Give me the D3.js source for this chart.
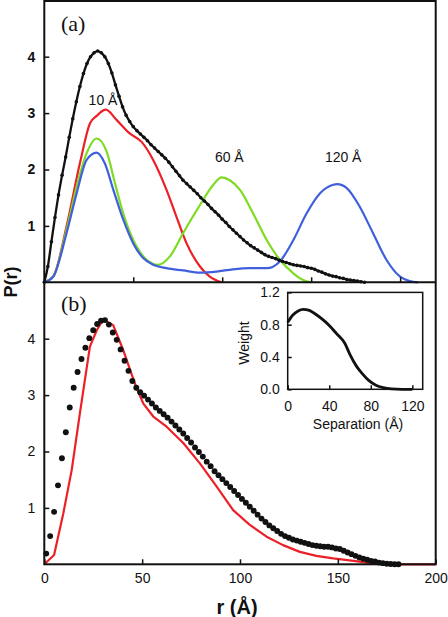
<!DOCTYPE html>
<html><head><meta charset="utf-8">
<script src="https://cdn.jsdelivr.net/npm/d3@7"></script>
<style>body{margin:0;background:#fff}svg{display:block}</style>
</head><body>
<svg id="c" width="448" height="617" font-family="Liberation Sans, Arial, sans-serif"></svg>
<script>
// ---- Data ----
// Panel (a): black curve sampled every 2 Å
const aBlackR = [0,2,4,6,8,10,12,14,16,18,20,22,24,26,28,30,32,34,36,38,40,42,44,46,48,50,52,54,56,58,60,62,64,66,68,70,72,74,76,78,80,82,84,86,88,90,92,94,96,98,100,102,104,106,108,110,112,114,116,118,120,122,124,126,128,130,132,134,136,138,140,142,144,146,148,150,152,154,156,158,160,162,164,166,168,170,172,174,176,178,180];
const aBlackP = [0.0,0.28,0.72,1.15,1.55,1.90,2.22,2.57,2.90,3.20,3.47,3.70,3.88,4.00,4.07,4.10,4.07,4.00,3.88,3.71,3.50,3.30,3.11,2.96,2.85,2.76,2.69,2.63,2.57,2.51,2.44,2.38,2.32,2.26,2.20,2.13,2.05,1.97,1.89,1.81,1.75,1.69,1.63,1.57,1.50,1.44,1.38,1.31,1.25,1.19,1.12,1.06,0.99,0.93,0.87,0.81,0.75,0.70,0.65,0.61,0.57,0.53,0.49,0.46,0.44,0.42,0.39,0.37,0.35,0.33,0.31,0.30,0.29,0.28,0.26,0.25,0.23,0.20,0.18,0.15,0.13,0.11,0.10,0.08,0.07,0.05,0.04,0.03,0.02,0.01,0.0];
// 10 Å (red)
const aRedR = [0,5,12.5,20,25.7,29.4,34.6,40.6,48,54.7,61.2,68.7,74.3,80,87.5,93,99.6];
const aRedP = [0,0.1,0.99,2.11,2.82,2.95,3.06,2.88,2.64,2.49,2.17,1.64,1.16,0.69,0.28,0.10,0];
// 60 Å (green)
const aGreenR = [0,5,12.5,18.2,23.8,29.4,35,39.7,44.4,50,57.5,64,70.6,78,87.5,95,99.6,104.3,110,117.4,125,132.4,140,145.5,150];
const aGreenP = [0,0.1,0.93,1.70,2.29,2.55,2.32,1.76,1.22,0.75,0.40,0.31,0.46,0.87,1.37,1.73,1.86,1.81,1.64,1.22,0.75,0.40,0.16,0.04,0];
// 120 Å (blue)
const aBlueR = [0,5,12.5,18.2,23.8,29.4,34,38.8,44.4,50,55.6,61.2,68.7,78,87.5,96.8,106,115.5,125,132.4,140,147.4,155,162.4,164.6,170,177.3,184.8,192.3,200,205.4,210];
const aBlueP = [0,0.1,0.87,1.58,2.17,2.30,2.11,1.64,1.11,0.69,0.43,0.31,0.25,0.21,0.17,0.19,0.23,0.25,0.25,0.37,0.75,1.22,1.58,1.73,1.74,1.67,1.34,0.87,0.40,0.10,0.02,0];
const aLabels = ["10 Å","60 Å","120 Å"];
const aLabelR = [33,104,168];
const aLabelP = [3.15,2.13,2.13];

// Panel (b): measured data (dots) every 2 Å
const bDotR = [1,3,5,7,9,11,13,15,17,19,21,23,25,27,29,31,33,35,37,39,41,43,45,47,49,51,53,55,57,59,61,63,65,67,69,71,73,75,77,79,81,83,85,87,89,91,93,95,97,99,101,103,105,107,109,111,113,115,117,119,121,123,125,127,129,131,133,135,137,139,141,143,145,147,149,151,153,155,157,159,161,163,165,167,169,171,173,175,177,179,181];
const bDotP = [0.19,0.50,0.93,1.40,1.88,2.34,2.78,3.13,3.41,3.64,3.84,4.01,4.15,4.26,4.32,4.33,4.25,4.11,3.98,3.81,3.61,3.43,3.25,3.13,3.05,2.99,2.92,2.85,2.78,2.72,2.66,2.60,2.53,2.46,2.39,2.32,2.24,2.16,2.07,1.99,1.91,1.82,1.74,1.65,1.58,1.51,1.44,1.37,1.30,1.23,1.16,1.09,1.02,0.95,0.88,0.81,0.75,0.69,0.64,0.59,0.54,0.50,0.47,0.44,0.42,0.40,0.38,0.36,0.34,0.33,0.32,0.31,0.31,0.30,0.28,0.27,0.24,0.21,0.18,0.15,0.12,0.10,0.08,0.06,0.05,0.03,0.02,0.01,0.005,0,0];
// fit (red line)
const bFitR = [0,5,9.7,14,18.2,23.3,26.8,30.1,35.2,40.3,43.8,47.2,50.6,55.7,62.5,71,79.5,88,96.5,105,113.6,122,130.6,139,147.6,156,165,180,200];
const bFitP = [0,0.165,0.9,1.67,2.68,3.86,4.15,4.34,4.24,3.80,3.45,3.12,2.85,2.62,2.44,2.15,1.79,1.38,0.96,0.70,0.49,0.34,0.22,0.15,0.105,0.07,0.03,0,0];
// inset: weight vs separation
const insS = [0,5,10,15,20,28,35,40,47,55,60,66,72,78,85,92,100,110,120];
const insW = [0.83,0.92,0.97,0.99,0.98,0.92,0.85,0.79,0.69,0.57,0.43,0.29,0.19,0.11,0.05,0.02,0.005,0,0];

const pTicks = [1,2,3,4];
const aXTicks = [50,100,150,200];
const bXTicks = [0,50,100,150,200];
const insXTicks = [0,40,80,120];
const insYTicks = [0,0.4,0.8,1.2];

// ---- Drawing ----
const SANS = "Liberation Sans, Arial, sans-serif";
const SERIF = "Liberation Serif, Times New Roman, serif";
const svg = d3.select("#c");
const L = 44.3, R = 435.7, TOP = 1, MID = 282.3, BOT = 564.3;
const xa = d3.scaleLinear().domain([0,220]).range([L,R]);
const ya = d3.scaleLinear().domain([0,5]).range([MID,MID-5*56.4]);
const xb = d3.scaleLinear().domain([0,200]).range([L,R]);
const yb = d3.scaleLinear().domain([0,5]).range([BOT,BOT-5*56.4]);
const xi = d3.scaleLinear().domain([0,130]).range([287.7,422.7]);
const yi = d3.scaleLinear().domain([0,1.2]).range([389.3,292.4]);

function zip(a,b){return a.map((v,i)=>[v,b[i]]);}
function drawLine(xs,ys,data,color,w,curve){
  svg.append("path").datum(data).attr("fill","none").attr("stroke",color)
    .attr("stroke-width",w).attr("stroke-linejoin","round")
    .attr("d",d3.line().x(d=>xs(d[0])).y(d=>ys(d[1])).curve(curve||d3.curveMonotoneX));
}

// panel (a) curves
drawLine(xa,ya,zip(aRedR,aRedP),"#ec2027",2.2);
drawLine(xa,ya,zip(aGreenR,aGreenP),"#7ddc22",2.2);
drawLine(xa,ya,zip(aBlueR,aBlueP),"#3f5fdc",2.2);
drawLine(xa,ya,zip(aBlackR,aBlackP),"#111",2.3);
svg.append("g").selectAll("circle").data(zip(aBlackR,aBlackP)).join("circle")
  .attr("cx",d=>xa(d[0])).attr("cy",d=>ya(d[1])).attr("r",1.8).attr("fill","#111");
svg.append("g").selectAll("text").data(aLabels).join("text")
  .attr("x",(d,i)=>xa(aLabelR[i])).attr("y",(d,i)=>ya(aLabelP[i]))
  .attr("text-anchor","middle").attr("font-size",14).attr("fill","#111").text(d=>d);

// panel (b)
drawLine(xb,yb,zip(bFitR,bFitP),"#ec2027",2.2,d3.curveLinear);
svg.append("g").selectAll("circle").data(zip(bDotR,bDotP)).join("circle")
  .attr("cx",d=>xb(d[0])).attr("cy",d=>yb(d[1])).attr("r",2.95).attr("fill","#111");

// frames
svg.append("rect").attr("x",L).attr("y",TOP).attr("width",R-L).attr("height",BOT-TOP)
  .attr("fill","none").attr("stroke","#111").attr("stroke-width",2);
svg.append("line").attr("x1",L).attr("x2",R).attr("y1",MID).attr("y2",MID)
  .attr("stroke","#111").attr("stroke-width",2);

// axes (inward ticks)
function axisG(axis, tx, ty){
  const g = svg.append("g").attr("transform",`translate(${tx},${ty})`).call(axis);
  g.attr("font-family",SANS);
  g.select(".domain").remove();
  g.selectAll(".tick line").attr("stroke","#111").attr("stroke-width",1.5);
  g.selectAll("text").attr("fill","#111");
  return g;
}
const ayA = axisG(d3.axisLeft(ya).tickValues(pTicks).tickSizeInner(-5).tickPadding(9).tickFormat(d3.format("d")), L, 0);
ayA.attr("font-size",14).selectAll("text").attr("font-weight","bold");
axisG(d3.axisBottom(xa).tickValues(aXTicks).tickSizeInner(-5).tickFormat(""), 0, MID);
const ayB = axisG(d3.axisLeft(yb).tickValues(pTicks).tickSizeInner(-5).tickPadding(9).tickFormat(d3.format("d")), L, 0);
ayB.attr("font-size",14);
const axB = axisG(d3.axisBottom(xb).tickValues(bXTicks).tickSizeInner(-5).tickPadding(9).tickFormat(d3.format("d")), 0, BOT);
axB.attr("font-size",14);

// inset
svg.append("rect").attr("x",xi(0)).attr("y",yi(1.2)).attr("width",xi(130)-xi(0)).attr("height",yi(0)-yi(1.2))
  .attr("fill","#fff").attr("stroke","#111").attr("stroke-width",1.5);
drawLine(xi,yi,zip(insS,insW),"#111",2.8);
const ixA = axisG(d3.axisBottom(xi).tickValues(insXTicks).tickSizeInner(-4).tickPadding(12).tickFormat(d3.format("d")), 0, yi(0));
ixA.attr("font-size",14);
const iyA = axisG(d3.axisLeft(yi).tickValues(insYTicks).tickSizeInner(-4).tickPadding(8).tickFormat(d3.format(".1f")), xi(0), 0);
iyA.attr("font-size",14);
svg.append("text").attr("x",358).attr("y",429).attr("text-anchor","middle").attr("font-size",14).attr("fill","#111").text("Separation (Å)");
svg.append("text").attr("transform","translate(249,343) rotate(-90)").attr("text-anchor","middle").attr("font-size",14).attr("fill","#111").text("Weight");

// labels
svg.append("text").attr("x",61).attr("y",31).attr("font-family",SERIF).attr("font-size",22).attr("fill","#111").text("(a)");
svg.append("text").attr("x",61).attr("y",311).attr("font-family",SERIF).attr("font-size",22).attr("fill","#111").text("(b)");
svg.append("text").attr("x",237).attr("y",614).attr("text-anchor","middle").attr("font-size",20).attr("font-weight","bold").attr("fill","#111").text("r (Å)");
svg.append("text").attr("transform","translate(17,282) rotate(-90)").attr("text-anchor","middle").attr("font-size",18).attr("font-weight","bold").attr("fill","#111").text("P(r)");
</script>
</body></html>
